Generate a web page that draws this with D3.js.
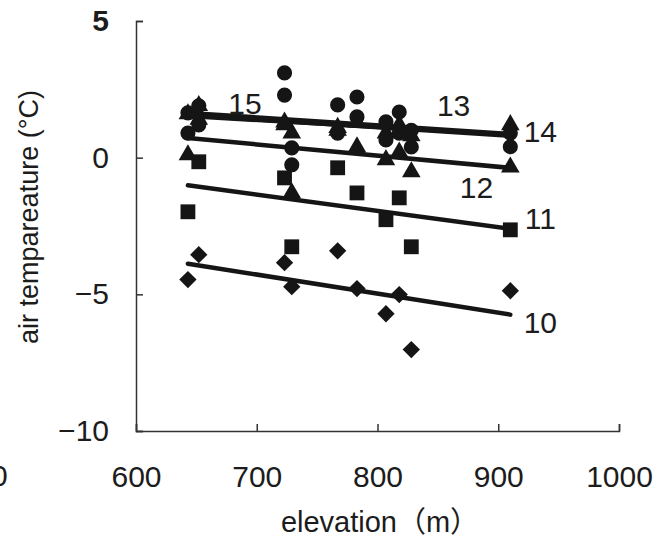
<!DOCTYPE html>
<html><head><meta charset="utf-8">
<script src="https://cdn.jsdelivr.net/npm/d3@7"></script>
<style>
html,body{margin:0;padding:0;background:#fff;}
svg{display:block;}
text{font-family:"Liberation Sans",Arial,"Noto Sans CJK JP",sans-serif;fill:#1c1c1c;}
</style></head><body>
<svg id="chart" width="664" height="543"></svg>
<script>
// ---- data ----
const elevations = [643, 652, 723, 729, 767, 783, 807, 818, 828, 910];
const hours = ["10", "11", "12", "13", "14", "15"];
const temp10 = [-4.46, -3.55, -3.84, -4.72, -3.41, -4.79, -5.71, -5.01, -7.02, -4.87];
const temp11 = [-1.98, -0.15, -0.74, -3.26, -0.37, -1.29, -2.27, -1.47, -3.26, -2.64];
const temp12 = [0.10, 1.40, 1.30, -1.29, 1.00, 0.39, -0.08, 0.20, -0.52, -0.35];
const temp13 = [0.90, 1.20, 3.10, 0.36, 1.93, 1.49, 0.65, 1.67, 0.39, 0.40];
const temp14 = [1.60, 1.90, 1.20, 0.90, 1.10, 1.30, 0.90, 1.20, 0.80, 1.20];
const temp15 = [1.64, 1.90, 2.29, -0.26, 0.90, 2.22, 1.31, 0.90, 1.00, 0.90];
const xTicks = [600, 700, 800, 900, 1000];
const yTicks = [-10, -5, 0, 5];
const xTitle = "elevation（m）";
const yTitle = "air tempareature (°C)";

const seriesTemps = [temp10, temp11, temp12, temp13, temp14, temp15];
const markerOf = {"10": "diamond", "11": "square", "12": "triangle", "13": "circle", "14": "triangle", "15": "circle"};
// label placement relative to the fitted line: [elevation at which to anchor, dx, dy]
const labelPlace = {"10": [910, 30, 8], "11": [910, 30, -11], "12": [882, 0, 22], "13": [863, 0, -27], "14": [910, 30, -3], "15": [730, -48, -17]};

const series = hours.map((h, i) => ({
  name: h,
  points: elevations.map((e, j) => ({e: e, t: seriesTemps[i][j]}))
}));

function fit(points) {
  const mx = d3.mean(points, p => p.e), my = d3.mean(points, p => p.t);
  const sxy = d3.sum(points, p => (p.e - mx) * (p.t - my));
  const sxx = d3.sum(points, p => (p.e - mx) ** 2);
  const b = sxy / sxx;
  return e => my + b * (e - mx);
}

const svg = d3.select("#chart");
const x = d3.scaleLinear().domain([600, 1000]).range([136, 619]);
const y = d3.scaleLinear().domain([-10, 5]).range([431, 21]);

// axes
const xAxis = svg.append("g").attr("transform", "translate(0,431)")
  .call(d3.axisBottom(x).tickValues(xTicks).tickSize(-7).tickSizeOuter(-7).tickPadding(35).tickFormat(d3.format("d")));
const yAxis = svg.append("g").attr("transform", "translate(136,0)")
  .call(d3.axisLeft(y).tickValues(yTicks).tickSize(-7).tickSizeOuter(-7).tickPadding(27).tickFormat(d3.format("d")));
[xAxis, yAxis].forEach(g => {
  g.attr("font-family", null).attr("font-size", null);
  g.selectAll("path,line").attr("stroke", "#333").attr("stroke-width", 1.5);
  g.selectAll("text").attr("font-size", 30).attr("fill", "#1c1c1c");
});
yAxis.selectAll(".tick text").filter(d => d === 5).attr("font-weight", "bold");

// titles
svg.append("text").attr("x", 380).attr("y", 532).attr("text-anchor", "middle")
  .attr("font-size", 29).text(xTitle);
svg.append("text").attr("transform", "translate(38,217) rotate(-90)").attr("text-anchor", "middle")
  .attr("font-size", 27).text(yTitle);
// fragment of neighbouring figure at the left edge
svg.append("text").attr("x", -9).attr("y", 486).attr("font-size", 30).text("0");

// fitted lines
series.forEach(s => {
  const f = fit(s.points);
  const ext = d3.extent(s.points, p => p.e);
  svg.append("line")
    .attr("x1", x(ext[0])).attr("y1", y(f(ext[0])))
    .attr("x2", x(ext[1])).attr("y2", y(f(ext[1])))
    .attr("stroke", "#151515").attr("stroke-width", 4.5).attr("stroke-linecap", "round");
});

// markers
const symType = {diamond: d3.symbolSquare, square: d3.symbolSquare, triangle: d3.symbolTriangle, circle: d3.symbolCircle};
const symSize = {diamond: 150, square: 220, triangle: 150, circle: 180};
series.forEach(s => {
  const m = markerOf[s.name];
  svg.append("g").selectAll("path").data(s.points).join("path")
    .attr("d", d3.symbol().type(symType[m]).size(symSize[m]))
    .attr("transform", p => `translate(${x(p.e)},${y(p.t)})` + (m === "diamond" ? " rotate(45)" : ""))
    .attr("fill", "#151515");
});

// series labels
series.forEach(s => {
  const f = fit(s.points);
  const [e, dx, dy] = labelPlace[s.name];
  svg.append("text").attr("x", x(e) + dx).attr("y", y(f(e)) + dy)
    .attr("text-anchor", "middle").attr("dy", "0.36em").attr("font-size", 30).text(s.name);
});
</script>
</body></html>
